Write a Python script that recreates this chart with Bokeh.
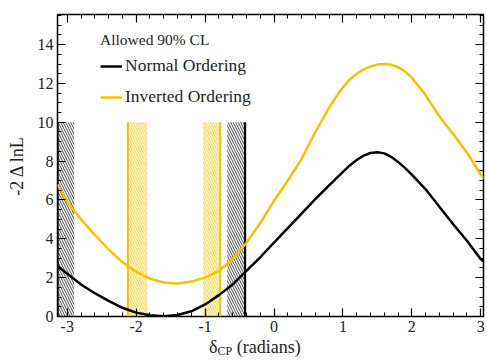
import numpy as np
from bokeh.plotting import figure
from bokeh.layouts import column
from bokeh.models import (Range1d, LinearAxis, FixedTicker, Legend, LegendItem,
                          ColumnDataSource, Div, CustomLabelingPolicy)
from bokeh.embed import file_html
from bokeh.resources import INLINE

# ---- data ----
delta = [-3.1416, -3.0, -2.8, -2.6, -2.4, -2.2, -2.0, -1.8, -1.6, -1.4, -1.2, -1.0,
         -0.8, -0.6, -0.4, -0.2, 0.0, 0.2, 0.4, 0.6, 0.8, 0.9, 1.0, 1.1, 1.2, 1.3,
         1.4, 1.5, 1.6, 1.7, 1.8, 1.9, 2.0, 2.2, 2.4, 2.6, 2.8, 3.0, 3.1416]
normal = [2.6, 2.2, 1.65, 1.2, 0.8, 0.45, 0.2, 0.06, 0.01, 0.08, 0.27, 0.62,
          1.1, 1.65, 2.35, 3.05, 3.8, 4.55, 5.3, 6.05, 6.75, 7.1, 7.45, 7.78, 8.06, 8.28,
          8.42, 8.46, 8.4, 8.22, 7.96, 7.65, 7.3, 6.55, 5.65, 4.75, 3.9, 2.95, 2.6]
inverted = [6.8, 5.9, 5.0, 4.2, 3.45, 2.8, 2.3, 1.95, 1.75, 1.7, 1.8, 2.0,
            2.35, 2.95, 3.8, 4.8, 5.95, 7.0, 8.1, 9.5, 10.75, 11.3, 11.8, 12.2, 12.5, 12.72,
            12.87, 12.97, 13.0, 12.96, 12.84, 12.62, 12.3, 11.4, 10.3, 9.4, 8.45, 7.3, 6.8]

no_band_lo = [-3.1416, -0.68]
no_band_hi = [-2.90, -0.42]
no_edge = [-3.1416, -0.42]
io_band_lo = [-2.12, -1.03]
io_band_hi = [-1.84, -0.78]
io_edge = [-2.12, -0.78]
band_top = [10, 10]
band_bottom = [0, 0]

x_ticks = [-3, -2, -1, 0, 1, 2, 3]
y_ticks = [0, 2, 4, 6, 8, 10, 12, 14]

BLACK = "#000000"
GOLD = "#F2C300"
FONT = "Liberation Serif"

p = figure(width=487, height=338, output_backend="svg", toolbar_location=None,
           x_range=Range1d(-3.1416, 3.04), y_range=Range1d(0, 15.55),
           min_border_left=57, min_border_right=4, min_border_top=14,
           min_border_bottom=22)
p.background_fill_color = "white"
p.border_fill_color = "white"
p.outline_line_color = "black"
p.outline_line_width = 1.5
p.grid.visible = False

# bands
no_src = ColumnDataSource(dict(left=no_band_lo, right=no_band_hi, top=band_top,
                               bottom=band_bottom, edge=no_edge))
io_src = ColumnDataSource(dict(left=io_band_lo, right=io_band_hi, top=band_top,
                               bottom=band_bottom, edge=io_edge))
p.quad(left="left", right="right", top="top", bottom="bottom", source=io_src,
       fill_color=GOLD, fill_alpha=0.12, line_color=None,
       hatch_pattern="\\", hatch_color=GOLD, hatch_alpha=0.7, hatch_scale=5,
       hatch_weight=1)
p.quad(left="left", right="right", top="top", bottom="bottom", source=no_src,
       fill_color=None, line_color=None,
       hatch_pattern="\\", hatch_color="#333333", hatch_alpha=0.9, hatch_scale=5,
       hatch_weight=1)
p.segment(x0="edge", y0="bottom", x1="edge", y1="top", source=io_src,
          line_color=GOLD, line_width=2)
p.segment(x0="edge", y0="bottom", x1="edge", y1="top", source=no_src,
          line_color=BLACK, line_width=2.2)

r_no = p.line(delta, normal, line_color=BLACK, line_width=2.5, line_join="round")
r_io = p.line(delta, inverted, line_color=GOLD, line_width=2.5, line_join="round")

# axes
xt = FixedTicker(ticks=x_ticks, minor_ticks=list(np.round(np.arange(-3.2, 3.21, 0.2), 2)))
yt = FixedTicker(ticks=y_ticks, minor_ticks=list(np.arange(0, 16.01, 0.5)))


def style(ax, labels=True):
    ax.axis_line_color = None
    ax.major_tick_in = 8
    ax.major_tick_out = 0
    ax.minor_tick_in = 4
    ax.minor_tick_out = 0
    ax.major_tick_line_color = "black"
    ax.minor_tick_line_color = "black"
    ax.major_tick_line_width = 1.2
    ax.minor_tick_line_width = 1
    ax.major_label_text_font = FONT
    ax.major_label_text_font_size = "16px" if labels else "1px"
    ax.major_label_text_color = "#222222"
    ax.major_label_standoff = 4 if labels else 0
    if not labels:
        ax.major_label_policy = CustomLabelingPolicy(
            code="for (const i of indices) { indices.unset(i) }\nreturn indices")


p.xaxis.ticker = xt
p.yaxis.ticker = yt
style(p.xaxis[0])
style(p.yaxis[0])
p.xaxis.major_label_overrides = {t: str(t) for t in x_ticks}
p.yaxis.major_label_overrides = {t: str(t) for t in y_ticks}
p.yaxis.axis_label = "-2 \u0394 lnL"
p.yaxis.axis_label_text_font = FONT
p.yaxis.axis_label_text_font_style = "normal"
p.yaxis.axis_label_text_font_size = "18px"
p.yaxis.axis_label_text_color = "#222222"
p.yaxis.axis_label_standoff = 8

top_ax = LinearAxis(ticker=xt)
right_ax = LinearAxis(ticker=yt)
style(top_ax, labels=False)
style(right_ax, labels=False)
p.add_layout(top_ax, "above")
p.add_layout(right_ax, "right")

legend = Legend(items=[LegendItem(label="Normal Ordering", renderers=[r_no]),
                       LegendItem(label="Inverted Ordering", renderers=[r_io])],
                location=(43, 209), title="Allowed 90% CL",
                title_text_font=FONT, title_text_font_size="15.5px",
                title_text_font_style="normal", title_standoff=6,
                label_text_font=FONT, label_text_font_size="17.5px",
                label_text_color="#222222", title_text_color="#222222",
                glyph_width=22, glyph_height=20, label_height=20, label_standoff=3,
                spacing=10, padding=0, margin=0,
                border_line_color=None, background_fill_alpha=0)
p.add_layout(legend)

# x axis label with subscript
xlabel = Div(text='\u03b4<span style="font-size:12px;position:relative;top:2px;">CP</span>'
                  ' (radians)',
             width=487, height=23, margin=(0, 0, 0, 0),
             styles={"font-family": FONT, "font-size": "18px", "line-height": "18px",
                     "color": "#222222", "padding-left": "209px",
                     "white-space": "nowrap", "overflow": "visible"})

open("out.html", "w").write(file_html(column(p, xlabel, spacing=0), INLINE))
